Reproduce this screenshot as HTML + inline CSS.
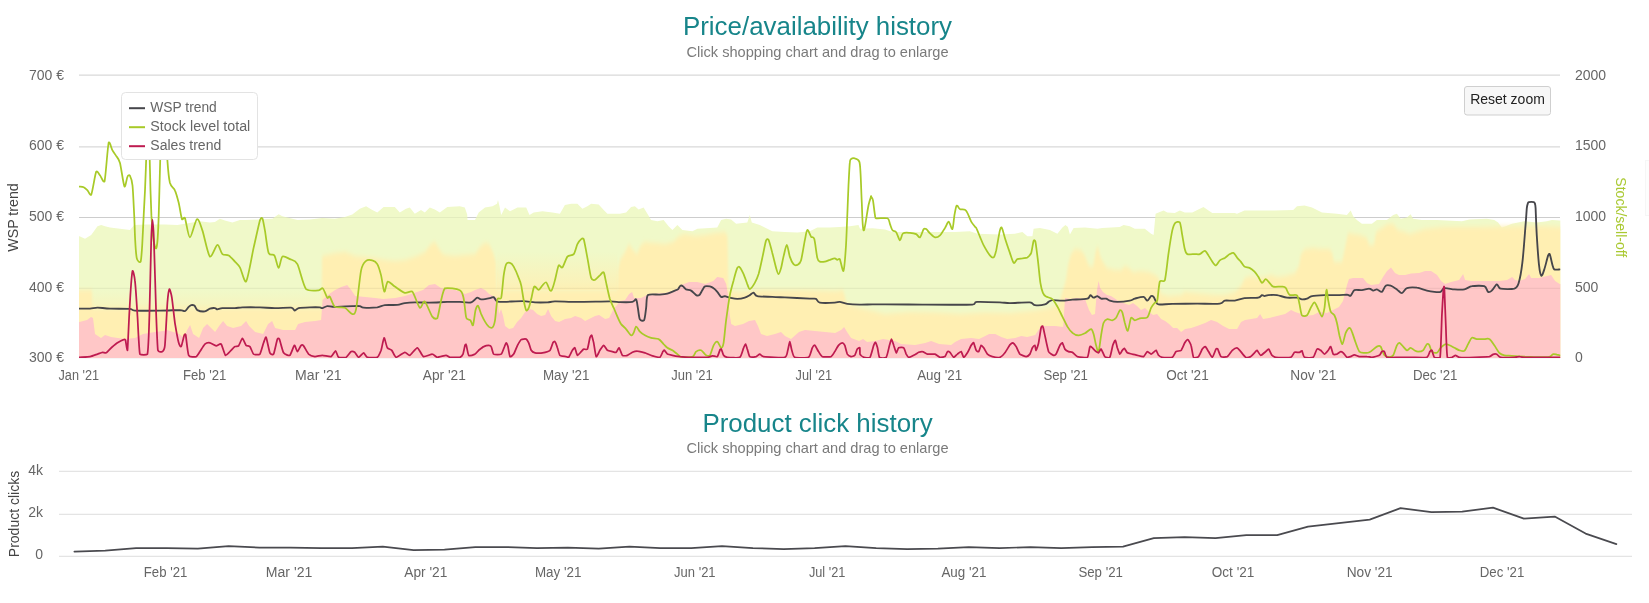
<!DOCTYPE html>
<html><head><meta charset="utf-8"><title>Price/availability history</title>
<style>
html,body{margin:0;padding:0;background:#fff;}
body{width:1649px;height:603px;position:relative;overflow:hidden;-webkit-font-smoothing:antialiased;font-family:"Liberation Sans",sans-serif;}
</style></head><body>
<svg width="1649" height="603" viewBox="0 0 1649 603" style="position:absolute;left:0;top:0;will-change:transform;font-family:'Liberation Sans',sans-serif">
<defs><linearGradient id="yg1" x1="0" y1="0" x2="0" y2="1"><stop offset="0" stop-color="#ffefb2" stop-opacity="0"/><stop offset="1" stop-color="#ffefb2" stop-opacity="0.85"/></linearGradient><linearGradient id="yg2" x1="0" y1="0" x2="0" y2="1"><stop offset="0" stop-color="#ffefb2" stop-opacity="0"/><stop offset="1" stop-color="#ffefb2" stop-opacity="0.5"/></linearGradient><filter id="bl" x="-2%" y="-10%" width="104%" height="120%"><feGaussianBlur stdDeviation="1.3 2.4"/></filter><filter id="bl2" x="-2%" y="-10%" width="104%" height="120%"><feGaussianBlur stdDeviation="0.5"/></filter><clipPath id="cp"><rect x="79" y="60" width="1481.3" height="298.1"/></clipPath></defs>
<path d="M79 75.1 H1560" stroke="#d9d9d9" stroke-width="1.15" fill="none"/>
<path d="M79 146.9 H1560" stroke="#d9d9d9" stroke-width="1.15" fill="none"/>
<path d="M79 217.45 H1560" stroke="#d9d9d9" stroke-width="1.15" fill="none"/>
<path d="M79 288.4 H1560" stroke="#d9d9d9" stroke-width="1.15" fill="none"/>
<path d="M79 357.6 H1560" stroke="#d9d9d9" stroke-width="1.15" fill="none"/>
<g clip-path="url(#cp)">
<path d="M71.5 236.2 L79.5 236.2 L85.0 238.7 L91.2 234.9 L97.5 226.2 L101.2 224.9 L105.0 226.2 L110.0 227.4 L120.0 228.7 L130.0 229.9 L134.2 224.9 L144.9 224.4 L164.9 224.4 L177.4 224.9 L199.9 221.2 L209.9 222.4 L214.9 221.9 L219.9 218.7 L224.9 220.4 L232.4 222.4 L239.9 219.9 L244.9 219.9 L259.9 219.4 L272.4 218.7 L278.6 214.2 L282.4 216.2 L292.4 218.7 L297.4 219.9 L309.9 219.4 L322.3 217.9 L334.8 218.7 L344.8 216.9 L352.3 214.4 L359.8 208.7 L366.1 206.2 L372.3 209.9 L377.3 212.4 L383.6 206.9 L394.8 206.9 L399.8 212.4 L406.0 208.7 L409.8 207.4 L414.8 213.7 L421.0 209.9 L424.8 212.4 L429.8 207.4 L434.8 209.4 L439.8 212.4 L447.3 206.9 L459.8 206.2 L464.8 207.4 L467.2 214.4 L467.5 219.9 L475.0 219.9 L478.7 212.4 L485.0 207.4 L492.5 206.2 L497.0 203.7 L498.0 199.9 L499.5 206.2 L501.2 214.9 L505.0 207.4 L510.0 211.2 L517.5 207.4 L526.2 207.4 L529.5 214.9 L533.7 212.4 L542.5 211.2 L552.4 212.4 L559.9 213.7 L564.9 204.9 L571.2 203.7 L577.4 203.7 L582.4 208.7 L587.4 206.2 L591.2 203.7 L598.7 204.4 L603.7 209.9 L607.4 213.7 L619.9 213.7 L626.1 212.4 L631.1 206.9 L634.9 206.2 L638.6 209.4 L643.6 207.4 L647.4 213.7 L651.1 219.9 L657.4 221.2 L663.6 219.9 L668.6 226.2 L672.4 229.9 L677.4 224.9 L682.4 229.9 L692.4 231.2 L697.4 228.7 L709.9 227.9 L717.3 227.4 L721.1 219.9 L726.1 218.7 L731.1 219.4 L736.1 223.7 L747.3 222.4 L749.8 214.9 L751.8 222.4 L759.8 224.9 L764.8 227.4 L772.3 231.2 L784.8 231.9 L797.3 232.4 L809.8 231.2 L817.3 227.4 L829.8 227.4 L839.8 226.9 L849.8 226.2 L858.5 224.9 L860.0 228.7 L872.5 228.2 L885.0 229.4 L892.5 231.9 L910.0 231.9 L935.0 231.9 L954.9 231.9 L969.9 231.2 L977.4 233.7 L999.9 234.4 L1014.9 233.7 L1022.4 231.9 L1027.4 236.2 L1032.4 236.2 L1033.6 228.7 L1039.9 227.9 L1049.9 229.9 L1057.4 233.7 L1062.4 227.4 L1065.4 224.9 L1067.9 226.9 L1069.9 234.4 L1073.6 227.9 L1084.9 227.4 L1097.4 228.7 L1102.3 227.9 L1119.8 226.9 L1123.6 224.9 L1129.8 226.2 L1134.8 228.7 L1144.8 228.7 L1151.1 233.7 L1153.6 234.9 L1155.6 213.7 L1159.8 211.9 L1163.6 210.4 L1167.3 212.4 L1174.8 212.9 L1179.8 210.4 L1184.8 212.4 L1192.3 212.4 L1197.3 209.9 L1203.5 206.9 L1208.5 210.4 L1212.3 212.9 L1234.8 212.9 L1237.0 213.7 L1244.5 210.4 L1262.0 210.4 L1274.5 210.4 L1293.2 209.9 L1297.0 206.2 L1304.5 205.4 L1312.0 207.4 L1322.0 212.4 L1336.9 213.7 L1346.9 214.9 L1350.7 210.4 L1353.2 216.2 L1356.9 219.9 L1361.9 223.7 L1371.9 223.7 L1376.9 219.9 L1386.9 219.9 L1393.2 214.9 L1396.9 213.7 L1400.7 218.7 L1406.9 217.4 L1410.6 214.2 L1413.1 218.7 L1421.9 219.9 L1436.9 219.9 L1461.9 221.2 L1469.4 219.4 L1486.8 218.7 L1494.3 219.9 L1498.1 222.4 L1501.8 227.4 L1505.6 226.2 L1511.8 223.7 L1524.3 221.2 L1536.8 222.4 L1546.8 221.2 L1551.8 219.9 L1560.0 220.4 L1568.0 220.4 L1568.0 366.3 L71.5 366.3 Z" fill="#f0f9c9" filter="url(#bl2)"/>
<path d="M71.5 290.0 L79.5 290.0 L92.0 290.0 L93.0 308.0 L150.0 308.0 L321.5 308.0 L322.1 256.0 L335.2 253.0 L345.2 252.0 L355.2 256.0 L365.2 257.0 L375.2 258.0 L385.2 260.0 L395.2 261.0 L405.0 260.0 L411.0 258.0 L417.0 256.0 L425.0 252.0 L431.0 244.0 L435.0 242.0 L441.0 252.0 L445.0 255.0 L455.0 256.0 L465.0 255.0 L475.0 254.0 L481.0 246.0 L485.0 243.0 L489.0 244.0 L493.0 252.0 L496.0 262.0 L497.0 289.5 L617.0 289.5 L618.0 270.0 L620.0 260.0 L625.0 252.0 L629.0 244.0 L633.0 250.0 L637.0 254.0 L641.0 245.0 L645.0 242.0 L655.0 243.0 L665.0 244.0 L673.0 242.0 L679.0 236.0 L685.0 234.0 L695.0 236.0 L705.0 235.0 L715.0 233.0 L725.0 232.0 L727.5 236.0 L728.5 290.0 L740.0 292.0 L760.0 290.0 L800.0 290.0 L835.0 291.0 L843.0 290.0 L847.0 304.0 L860.0 308.0 L885.0 314.0 L910.0 312.0 L935.0 312.5 L960.0 314.0 L985.0 312.5 L1010.0 313.0 L1035.0 310.5 L1050.0 308.0 L1059.0 304.0 L1063.0 290.0 L1066.0 280.0 L1068.0 265.0 L1071.0 254.0 L1075.0 249.0 L1081.0 250.0 L1085.0 256.0 L1089.0 266.0 L1093.0 267.0 L1096.0 250.0 L1098.0 246.0 L1100.0 256.0 L1103.0 262.0 L1107.0 268.0 L1115.0 270.0 L1121.0 270.0 L1125.0 266.0 L1129.0 268.0 L1133.0 272.0 L1141.0 271.0 L1149.0 272.0 L1155.0 275.0 L1159.0 278.0 L1160.0 290.0 L1161.0 294.0 L1169.0 296.0 L1181.0 295.0 L1185.0 292.0 L1195.0 293.0 L1205.0 294.0 L1215.0 295.0 L1225.0 295.0 L1235.0 292.0 L1241.0 286.0 L1245.0 278.0 L1251.0 276.0 L1257.0 278.0 L1265.0 277.0 L1271.0 275.0 L1277.0 277.0 L1285.0 276.0 L1295.0 273.0 L1299.0 266.0 L1301.0 254.0 L1305.0 249.0 L1313.0 248.0 L1321.0 249.0 L1329.0 249.0 L1332.0 252.0 L1334.0 262.0 L1342.0 262.0 L1345.0 248.0 L1348.0 233.0 L1360.0 235.0 L1367.0 238.0 L1369.0 245.0 L1374.0 245.0 L1376.0 232.0 L1388.0 224.0 L1393.0 224.0 L1398.0 230.0 L1405.0 232.0 L1410.0 234.0 L1425.0 229.0 L1443.0 227.0 L1480.0 227.0 L1520.0 226.0 L1545.0 226.0 L1560.0 227.0 L1568.0 227.0 L1568.0 366.3 L71.5 366.3 Z" fill="#ffefb2" filter="url(#bl)"/>
<rect x="497" y="252" width="120.5" height="38" fill="url(#yg1)"/>
<rect x="93" y="290" width="228.5" height="18.5" fill="url(#yg2)"/>
<path d="M71.5 322.1 L79.5 322.1 L87.0 320.1 L91.0 317.1 L93.0 318.1 L95.0 334.1 L101.0 338.1 L105.0 335.1 L111.0 337.1 L125.0 339.1 L135.0 338.1 L143.0 334.1 L155.0 332.1 L163.1 331.1 L167.1 330.1 L179.1 334.1 L184.1 338.1 L187.1 330.1 L190.1 325.1 L193.1 334.1 L199.1 338.1 L203.1 328.1 L207.1 324.1 L211.1 328.1 L215.1 332.1 L219.1 326.1 L223.1 321.1 L227.1 326.1 L233.1 328.1 L241.1 326.1 L246.1 321.1 L249.1 326.1 L255.1 332.1 L263.1 334.1 L268.1 324.1 L272.1 321.1 L275.1 328.1 L283.1 330.1 L295.1 330.1 L298.1 324.1 L305.1 322.1 L315.1 321.1 L321.1 320.1 L322.6 300.0 L329.2 294.0 L335.2 290.0 L341.2 287.0 L347.2 285.0 L351.2 290.0 L355.2 296.0 L365.2 297.0 L375.2 298.0 L383.2 299.0 L395.2 298.0 L405.0 296.0 L411.0 294.0 L417.0 292.0 L423.0 290.0 L429.0 285.0 L435.0 284.0 L441.0 288.0 L445.0 289.0 L455.0 290.0 L461.0 292.0 L465.0 294.0 L471.0 292.0 L475.0 290.0 L481.0 288.0 L485.0 290.0 L489.1 294.0 L493.1 296.0 L497.1 298.0 L499.1 314.1 L501.1 309.0 L503.1 316.1 L505.1 326.1 L509.1 329.1 L513.1 328.1 L517.1 322.1 L521.1 318.1 L525.1 312.0 L529.1 309.0 L533.1 310.0 L537.1 314.1 L541.1 316.1 L545.1 315.1 L548.1 309.0 L551.1 316.1 L555.1 321.1 L559.1 322.1 L565.1 319.1 L571.1 318.1 L575.1 316.1 L581.1 318.1 L585.1 321.1 L589.1 319.1 L595.1 316.1 L599.1 315.1 L605.1 319.1 L609.1 318.1 L613.1 310.0 L617.1 305.0 L620.1 301.0 L625.1 300.0 L629.1 294.0 L632.1 292.0 L634.1 298.0 L641.1 298.0 L645.1 296.0 L648.1 294.0 L665.2 293.0 L675.2 290.0 L681.2 285.0 L689.2 282.0 L697.2 282.0 L705.2 284.0 L713.2 281.0 L717.2 277.0 L723.2 278.0 L726.2 284.0 L728.2 296.0 L729.6 314.1 L731.2 324.1 L735.0 326.1 L743.0 324.1 L749.0 321.1 L755.0 320.1 L758.0 326.1 L761.0 334.1 L767.0 336.1 L775.0 334.1 L781.0 332.1 L785.0 336.1 L791.0 339.1 L799.0 332.1 L805.0 330.1 L815.0 331.1 L825.1 332.1 L835.1 333.1 L841.1 330.1 L844.1 327.1 L847.1 332.1 L851.1 338.1 L859.1 341.1 L863.1 339.1 L867.1 342.1 L875.1 341.1 L883.1 339.1 L895.1 341.1 L901.1 344.1 L915.1 345.1 L925.1 343.1 L931.1 341.1 L939.1 344.1 L951.1 345.1 L955.1 342.1 L961.1 339.1 L971.1 338.1 L979.1 339.1 L985.2 336.1 L989.2 334.1 L995.2 334.1 L1001.2 337.1 L1007.2 339.1 L1015.2 338.1 L1021.2 336.1 L1027.2 337.1 L1035.2 335.1 L1041.2 326.1 L1047.2 326.1 L1055.2 326.1 L1063.2 327.1 L1065.0 298.0 L1071.0 299.0 L1077.0 298.0 L1085.0 299.0 L1089.0 310.0 L1092.0 315.1 L1095.0 314.1 L1097.0 290.0 L1098.6 281.0 L1100.2 288.0 L1103.0 292.0 L1107.0 295.0 L1111.0 296.0 L1117.0 300.0 L1123.0 303.0 L1129.0 305.0 L1133.0 303.0 L1137.0 306.0 L1141.0 310.0 L1145.0 308.0 L1149.1 312.0 L1153.1 315.1 L1157.1 314.1 L1161.1 319.1 L1165.1 321.1 L1169.1 324.1 L1173.1 328.1 L1177.1 328.1 L1181.1 332.1 L1185.1 329.1 L1191.1 328.1 L1197.1 326.1 L1205.1 323.1 L1211.1 320.1 L1217.1 322.1 L1223.1 326.1 L1229.1 329.1 L1237.1 329.1 L1241.1 322.1 L1245.1 320.1 L1251.1 319.1 L1257.1 318.1 L1260.1 314.1 L1263.1 319.1 L1269.1 318.1 L1277.1 316.1 L1285.1 314.1 L1291.1 310.0 L1295.1 312.0 L1301.1 314.1 L1305.1 316.1 L1313.2 315.1 L1317.2 313.1 L1319.0 312.1 L1327.0 313.1 L1335.0 309.1 L1339.0 307.1 L1343.0 301.1 L1347.0 285.0 L1349.0 279.0 L1353.0 278.0 L1363.0 278.0 L1367.0 283.0 L1371.0 285.0 L1379.0 284.0 L1383.0 277.0 L1387.0 271.0 L1391.0 267.4 L1395.0 273.0 L1399.0 275.0 L1405.1 275.0 L1411.1 273.4 L1419.1 273.0 L1425.1 271.0 L1431.1 271.0 L1437.1 275.0 L1441.1 281.0 L1445.1 284.0 L1451.1 282.0 L1459.1 280.0 L1463.1 274.0 L1465.1 280.0 L1471.1 281.0 L1479.1 281.0 L1489.1 281.0 L1499.1 281.0 L1507.1 280.0 L1512.1 277.0 L1515.1 280.0 L1519.1 281.0 L1525.1 279.0 L1529.1 274.0 L1531.1 278.0 L1539.1 278.0 L1547.1 276.0 L1551.1 275.0 L1555.1 281.0 L1559.7 284.0 L1560.0 284.0 L1568.0 284.0 L1568.0 366.3 L71.5 366.3 Z" fill="#ffc7c7" filter="url(#bl2)"/>
<path d="M79 217.45 H1560" stroke="#000" stroke-opacity="0.05" stroke-width="1.1" fill="none"/>
<path d="M79 288.4 H1560" stroke="#000" stroke-opacity="0.05" stroke-width="1.1" fill="none"/>
<path d="M79.5 308.6 C81.0 308.6 87.5 308.8 90.0 308.6 C92.5 308.5 94.7 307.6 97.5 307.6 C100.3 307.6 105.4 308.5 110.0 308.6 C114.5 308.8 126.5 308.6 130.0 308.9 C133.5 309.2 130.8 310.4 134.9 310.6 C139.1 310.9 153.6 310.7 159.9 310.6 C166.2 310.6 176.4 310.1 179.9 310.1 C183.4 310.2 183.7 311.6 184.9 311.1 C186.1 310.7 187.8 307.7 188.7 306.9 C189.5 306.1 190.4 305.3 191.2 305.1 C192.0 305.0 193.5 305.0 194.4 305.6 C195.3 306.3 196.0 309.3 197.4 310.1 C198.9 310.9 203.2 311.6 204.9 311.4 C206.7 311.2 208.5 309.1 209.9 308.6 C211.3 308.2 213.9 308.0 214.9 308.1 C216.0 308.2 216.4 309.4 217.4 309.4 C218.4 309.4 220.0 308.3 222.4 308.1 C224.8 308.0 232.1 308.2 234.9 308.1 C237.7 308.0 238.9 307.5 242.4 307.4 C245.9 307.3 255.3 307.3 259.9 307.4 C264.4 307.5 270.5 308.1 274.9 308.1 C279.2 308.2 288.3 307.3 291.1 307.6 C293.9 308.0 293.8 310.6 294.9 310.6 C295.9 310.7 296.5 308.6 298.6 308.1 C300.7 307.7 306.9 307.5 309.9 307.4 C312.8 307.3 318.1 307.3 319.8 307.4 C321.6 307.5 321.3 308.3 322.3 308.1 C323.4 308.0 325.6 306.3 327.3 306.1 C329.1 306.0 331.3 306.9 334.8 306.9 C338.3 306.9 348.8 306.3 352.3 306.1 C355.8 306.0 358.2 305.9 359.8 306.1 C361.4 306.4 361.1 307.5 363.6 307.6 C366.0 307.8 374.3 307.7 377.3 307.4 C380.3 307.0 382.0 305.5 384.8 305.1 C387.6 304.8 394.5 305.2 397.3 304.9 C400.1 304.6 402.3 303.5 404.8 303.1 C407.2 302.8 411.3 302.5 414.8 302.4 C418.3 302.3 425.2 302.7 429.8 302.6 C434.3 302.6 443.1 302.0 447.3 301.9 C451.5 301.8 457.3 301.8 459.8 301.9 C462.2 302.0 463.4 302.3 465.0 302.4 C466.6 302.5 469.8 302.8 471.2 302.4 C472.6 302.0 474.1 300.1 475.0 299.4 C475.9 298.7 476.6 297.6 477.5 297.6 C478.4 297.6 479.5 299.3 481.2 299.4 C483.0 299.5 488.2 298.5 490.0 298.1 C491.7 297.8 492.9 296.8 493.7 297.1 C494.6 297.5 495.4 300.0 496.2 300.6 C497.1 301.3 496.3 301.8 500.0 301.9 C503.7 302.0 517.6 301.1 522.5 301.1 C527.4 301.2 531.5 302.2 535.0 302.4 C538.4 302.6 544.7 302.5 547.5 302.4 C550.2 302.3 550.7 301.5 554.9 301.4 C559.1 301.3 569.7 301.9 577.4 301.9 C585.1 301.9 604.0 301.4 609.9 301.4 C615.9 301.4 616.8 302.1 619.9 302.1 C623.0 302.2 630.1 302.3 632.4 301.9 C634.7 301.5 635.4 298.5 636.1 299.4 C636.9 300.3 637.4 305.3 637.9 308.1 C638.4 310.9 639.0 317.7 639.9 319.4 C640.8 321.1 643.3 321.1 644.1 320.1 C645.0 318.6 645.6 311.6 646.1 308.1 C646.7 304.6 646.1 297.0 647.9 295.1 C649.8 293.6 657.2 294.9 659.9 294.6 C662.6 294.4 665.3 294.2 667.4 293.6 C669.5 293.1 673.4 291.2 674.9 290.6 C676.3 290.1 677.1 290.1 677.9 289.4 C678.6 288.7 679.7 286.1 680.4 285.7 C681.1 285.2 682.1 285.6 682.9 286.2 C683.7 286.7 685.0 288.8 686.1 289.4 C687.3 290.0 689.7 289.8 691.1 290.6 C692.5 291.5 695.0 294.5 696.1 295.1 C697.3 295.8 698.5 295.8 699.4 295.1 C700.2 294.4 701.6 291.4 702.4 290.1 C703.1 288.9 703.8 286.9 704.9 286.4 C705.9 285.9 708.6 286.2 709.9 286.4 C711.1 286.7 712.6 287.4 713.6 288.2 C714.6 288.9 716.3 290.7 717.3 291.9 C718.4 293.1 720.0 296.3 721.1 296.9 C722.1 297.5 723.6 296.0 724.8 296.1 C726.1 296.3 728.1 297.3 729.8 297.6 C731.6 298.0 735.2 298.9 737.3 298.9 C739.4 298.9 743.1 298.2 744.8 297.6 C746.6 297.1 748.6 295.8 749.8 295.1 C751.0 294.4 752.5 292.5 753.6 292.6 C754.6 292.8 754.7 295.6 757.3 296.1 C759.9 296.7 768.5 296.7 772.3 296.9 C776.2 297.1 779.6 297.2 784.8 297.4 C790.0 297.6 805.4 298.4 809.8 298.6 C814.2 298.9 814.6 298.3 816.0 298.9 C817.4 299.5 817.2 302.1 819.8 302.6 C822.4 303.2 832.0 302.8 834.8 302.6 C837.6 302.5 838.0 301.7 839.8 301.9 C841.5 302.1 844.5 303.5 847.3 303.9 C850.1 304.3 856.2 304.6 859.8 304.6 C863.3 304.7 869.0 304.4 872.5 304.4 C876.0 304.4 878.0 304.4 885.0 304.4 C892.0 304.4 910.2 304.6 922.5 304.6 C934.7 304.7 964.8 305.0 972.4 304.6 C976.9 304.3 973.1 302.2 976.9 301.9 C980.8 301.6 995.3 302.2 999.9 302.4 C1004.5 302.6 1005.7 303.1 1009.9 303.1 C1014.1 303.1 1026.4 302.1 1029.9 302.4 C1033.4 302.7 1032.8 304.9 1034.9 305.1 C1037.0 305.4 1043.0 304.9 1044.9 304.4 C1046.8 303.9 1047.6 302.5 1048.6 301.9 C1049.7 301.3 1050.5 300.3 1052.4 300.1 C1054.3 300.0 1059.6 300.7 1062.4 300.6 C1065.2 300.6 1068.9 299.9 1072.4 299.6 C1075.9 299.4 1084.8 299.3 1087.4 298.6 C1089.9 298.0 1089.5 295.3 1090.4 295.1 C1091.2 295.0 1092.6 297.5 1093.6 297.6 C1094.6 297.8 1096.3 296.0 1097.4 296.1 C1098.4 296.3 1099.9 298.3 1101.1 298.6 C1102.3 299.0 1104.9 298.4 1106.1 298.6 C1107.3 298.9 1108.3 300.2 1109.8 300.6 C1111.4 301.1 1114.5 301.9 1117.3 301.9 C1120.1 301.9 1127.4 301.1 1129.8 300.6 C1132.3 300.2 1132.9 299.2 1134.8 298.6 C1136.8 298.1 1141.8 296.6 1143.6 296.9 C1145.3 297.2 1146.3 300.8 1147.3 300.6 C1148.4 300.5 1150.2 296.7 1151.1 296.1 C1151.9 295.6 1152.9 296.1 1153.6 296.9 C1154.3 297.7 1155.4 300.8 1156.1 301.9 C1156.8 302.9 1156.3 304.1 1158.6 304.4 C1160.8 304.7 1166.9 304.0 1172.3 303.9 C1177.7 303.8 1190.7 303.7 1197.3 303.6 C1203.9 303.6 1215.9 304.1 1219.8 303.6 C1223.6 303.2 1222.7 301.1 1224.8 300.6 C1226.9 300.2 1232.0 301.0 1234.8 300.6 C1237.5 300.3 1241.2 298.6 1244.5 298.1 C1247.8 297.7 1255.8 298.1 1258.2 297.6 C1260.7 297.2 1261.1 295.4 1262.0 295.1 C1262.9 294.9 1263.6 296.1 1264.5 296.1 C1265.4 296.1 1266.5 295.3 1268.2 295.1 C1270.0 295.0 1274.4 294.8 1277.0 295.1 C1279.6 295.5 1284.2 297.3 1287.0 297.6 C1289.8 298.0 1294.9 297.4 1297.0 297.6 C1299.1 297.9 1300.6 299.3 1302.0 299.4 C1303.4 299.5 1305.6 299.1 1307.0 298.6 C1308.4 298.2 1309.5 296.6 1312.0 296.1 C1314.4 295.7 1321.0 295.3 1324.5 295.1 C1327.9 295.0 1333.8 295.2 1336.9 295.1 C1340.1 295.1 1345.0 294.6 1346.9 294.6 C1348.9 294.7 1349.6 296.3 1350.7 295.6 C1351.7 295.0 1352.9 290.9 1354.4 290.1 C1356.0 289.4 1359.8 290.4 1361.9 290.1 C1364.0 289.9 1367.8 288.6 1369.4 288.7 C1371.0 288.7 1372.1 290.5 1373.2 290.6 C1374.2 290.8 1375.7 289.2 1376.9 289.4 C1378.1 289.6 1380.7 292.4 1381.9 291.9 C1383.1 291.4 1384.4 286.5 1385.7 285.7 C1386.9 284.8 1389.1 285.1 1390.7 285.7 C1392.2 286.2 1395.3 288.4 1396.9 289.4 C1398.5 290.5 1400.5 293.3 1401.9 293.1 C1403.3 293.0 1404.8 288.9 1406.9 288.2 C1409.0 287.4 1414.1 287.3 1416.9 287.7 C1419.7 288.0 1424.4 290.1 1426.9 290.6 C1429.3 291.2 1432.5 291.7 1434.4 291.9 C1436.3 292.1 1439.2 292.4 1440.6 291.9 C1442.0 291.4 1442.4 288.5 1444.4 288.2 C1446.3 287.8 1451.6 289.2 1454.4 289.4 C1457.2 289.6 1461.9 289.9 1464.4 289.4 C1466.8 289.0 1469.1 286.6 1471.9 286.2 C1474.7 285.7 1482.1 285.4 1484.3 286.2 C1486.6 287.0 1487.0 291.3 1488.1 291.9 C1489.1 292.5 1490.6 291.7 1491.8 290.6 C1493.1 289.6 1495.6 284.7 1496.8 284.4 C1498.1 284.1 1498.1 288.1 1500.6 288.7 C1503.0 289.3 1511.8 289.4 1514.3 288.7 C1516.8 287.9 1517.5 286.7 1518.6 283.2 C1519.7 279.6 1521.4 270.9 1522.3 263.2 C1523.3 255.5 1524.7 235.9 1525.3 228.2 C1526.0 220.5 1526.5 211.6 1526.8 208.1 C1527.2 204.7 1527.5 204.5 1527.8 203.6 C1528.1 202.8 1528.0 202.3 1528.8 202.1 C1529.7 201.9 1533.0 201.9 1533.8 202.1 C1534.7 202.3 1534.6 202.8 1534.8 203.6 C1535.1 204.5 1535.3 203.6 1535.6 208.1 C1535.8 212.6 1536.3 227.6 1536.8 235.7 C1537.3 243.7 1538.4 260.1 1539.1 265.7 C1539.7 271.3 1540.6 275.1 1541.3 275.7 C1542.1 276.2 1543.4 272.2 1544.3 269.4 C1545.3 266.6 1547.3 257.8 1548.1 255.7 C1548.8 253.6 1549.2 253.4 1549.8 254.4 C1550.4 255.7 1551.7 262.3 1552.3 264.4 C1552.9 266.5 1553.2 268.7 1554.3 269.4 C1555.4 270.1 1559.2 269.4 1560.0 269.4" stroke="#46464b" stroke-width="1.85" fill="none" stroke-linejoin="round" stroke-linecap="round"/>
<path d="M79.5 186.6 C80.1 186.7 82.6 186.8 83.7 187.3 C84.9 187.9 86.4 189.3 87.5 190.3 C88.5 191.4 90.0 195.8 91.2 194.8 C92.5 192.2 95.0 174.3 96.2 171.6 C97.5 170.6 98.8 174.0 100.0 175.3 C101.1 176.7 103.2 182.6 104.5 181.6 C105.7 177.0 107.6 146.7 108.7 142.4 C109.8 141.4 111.4 148.5 112.5 150.4 C113.5 152.2 115.2 154.1 116.2 155.9 C117.3 157.6 118.8 158.6 120.0 162.9 C121.1 167.2 123.4 184.7 124.5 186.6 C125.5 187.6 126.7 178.1 127.5 176.6 C128.2 175.1 129.3 174.8 130.0 175.8 C130.7 177.1 131.9 179.8 132.5 185.3 C133.1 190.9 133.8 207.6 134.2 215.3 C134.6 223.0 134.8 234.4 135.2 240.4 C135.5 246.3 136.2 254.9 136.7 257.9 C137.2 260.8 138.1 261.1 138.7 261.6 C139.3 262.1 140.2 262.6 140.7 261.6 C141.2 259.3 141.8 251.9 142.2 245.4 C142.6 238.9 143.3 223.1 143.7 215.4 C144.1 207.7 144.6 199.5 145.0 190.4 C145.4 181.3 146.1 161.6 146.5 150.4 C146.9 139.2 147.6 110.4 148.0 110.4 C148.4 110.4 149.2 139.2 149.5 150.4 C149.8 161.6 150.2 181.3 150.5 190.4 C150.8 199.5 151.1 209.1 151.4 215.4 C151.8 221.7 152.4 231.0 152.9 235.4 C153.4 239.8 154.4 244.9 154.9 246.6 C155.4 248.4 156.1 248.9 156.4 247.9 C156.8 246.7 157.4 242.4 157.7 237.9 C158.0 233.3 158.5 222.0 158.7 215.4 C158.9 208.8 159.2 198.1 159.4 190.4 C159.6 182.7 159.9 171.6 160.2 160.4 C160.5 149.2 160.7 116.0 161.5 110.4 C162.3 109.4 165.2 113.4 166.0 120.4 C166.8 127.4 166.9 151.6 167.4 160.4 C168.0 169.1 168.9 178.6 169.9 182.8 C171.0 187.0 173.7 187.5 174.9 190.3 C176.2 193.1 177.7 198.8 178.7 202.8 C179.7 206.9 181.1 217.0 181.9 219.1 C182.8 220.1 183.8 216.9 184.9 217.9 C186.0 220.5 188.2 237.2 189.9 237.4 C191.6 237.6 195.2 220.1 196.9 219.2 C198.7 218.2 200.6 225.1 202.4 230.4 C204.2 235.6 207.8 254.6 209.9 256.6 C212.0 257.6 215.7 245.2 217.4 244.9 C219.1 244.5 220.8 252.7 222.4 254.1 C224.0 255.6 226.9 254.3 228.7 255.4 C230.4 256.4 233.3 259.9 234.9 261.6 C236.5 263.3 238.3 264.6 239.9 267.4 C241.5 270.2 244.2 282.6 246.1 281.6 C248.1 278.9 251.7 256.4 253.6 247.9 C255.6 239.3 258.7 224.5 259.9 220.4 C261.1 217.4 261.7 217.4 262.4 218.4 C263.1 219.8 264.0 225.6 264.9 230.4 C265.8 235.2 267.3 249.4 268.6 252.9 C269.9 256.4 273.0 253.3 274.4 255.4 C275.8 257.5 277.5 267.7 278.6 267.9 C279.7 268.0 280.8 257.8 282.4 256.6 C283.9 255.6 287.8 258.1 289.9 259.1 C292.0 260.2 295.1 259.9 297.4 264.1 C299.6 268.3 303.1 285.4 306.1 289.1 C309.1 291.3 316.2 290.5 318.6 290.3 C320.9 290.2 321.6 287.4 322.8 288.4 C324.1 289.4 326.4 296.7 327.3 297.8 C328.3 298.8 328.8 295.6 329.8 296.6 C330.9 297.8 332.7 305.0 334.8 306.6 C336.9 308.2 342.4 306.8 344.8 307.8 C347.3 308.9 350.7 313.9 352.3 314.1 C353.9 314.3 354.8 315.1 356.1 309.1 C357.3 303.0 359.7 277.1 361.1 270.4 C362.5 263.6 364.5 262.3 366.1 260.9 C367.6 259.5 370.7 259.9 372.3 260.4 C373.9 260.8 376.1 262.0 377.3 264.1 C378.5 266.2 380.1 271.5 381.1 275.4 C382.0 279.2 383.4 290.7 384.3 291.6 C385.2 292.5 386.3 282.3 387.8 281.6 C389.3 280.9 392.4 285.0 394.8 286.6 C397.2 288.2 402.3 292.2 404.8 292.8 C407.2 293.5 410.2 290.6 412.3 291.6 C414.4 293.7 418.0 306.4 419.8 307.8 C421.5 308.8 423.0 300.6 424.8 301.6 C426.5 302.8 430.5 314.2 432.3 316.6 C434.0 318.9 435.5 319.3 437.3 318.3 C439.0 314.4 441.6 292.3 444.8 288.4 C447.9 287.4 457.1 289.0 459.8 290.3 C462.4 291.7 462.6 294.2 463.5 297.8 C464.4 301.5 465.4 313.6 466.0 316.6 C466.6 319.6 466.9 318.6 467.5 319.1 C468.1 319.6 469.7 319.5 470.5 320.3 C471.3 321.2 472.3 326.3 473.0 325.3 C473.7 323.9 474.8 313.1 475.5 310.3 C476.2 307.6 477.2 305.3 478.0 305.8 C478.8 306.4 480.3 311.9 481.2 314.1 C482.2 316.3 483.9 319.8 485.0 321.6 C486.0 323.3 487.7 325.8 488.7 326.6 C489.8 327.4 491.6 328.2 492.5 327.3 C493.4 326.5 494.3 324.3 495.0 320.3 C495.7 316.4 496.6 302.2 497.5 299.1 C498.4 296.8 500.3 300.1 501.2 297.8 C502.1 294.5 503.0 280.1 503.7 275.4 C504.4 270.6 505.3 265.9 506.2 264.1 C507.1 262.4 508.9 262.5 510.0 262.9 C511.0 263.2 512.5 264.5 513.7 266.6 C514.9 268.7 517.7 275.2 518.7 277.9 C519.8 280.5 520.5 282.2 521.2 285.4 C521.9 288.5 523.0 296.9 523.7 300.3 C524.4 303.8 525.5 309.3 526.2 310.3 C526.9 311.3 528.0 309.4 528.7 307.8 C529.4 306.3 530.4 302.1 531.2 299.1 C532.0 296.1 533.2 287.9 534.2 286.6 C535.2 285.6 537.5 290.0 538.7 289.8 C539.9 289.7 541.4 286.4 542.5 285.4 C543.5 284.3 545.2 281.7 546.2 282.4 C547.2 283.1 549.1 289.3 550.0 290.3 C550.8 291.3 551.2 291.2 551.9 289.8 C552.6 288.5 554.0 283.8 554.9 280.4 C555.9 276.9 557.6 267.2 558.7 265.4 C559.7 264.4 561.2 268.4 562.4 267.4 C563.7 266.1 565.9 258.5 567.4 256.6 C569.0 254.8 572.3 255.9 573.7 254.1 C575.1 252.4 576.4 246.2 577.4 244.1 C578.5 242.0 580.3 239.8 581.2 239.1 C582.1 238.4 582.8 238.1 583.7 239.1 C584.5 241.8 586.4 252.4 587.4 257.9 C588.5 263.3 590.1 274.8 591.2 277.9 C592.2 280.9 593.7 280.2 594.9 279.9 C596.1 279.5 598.7 276.4 599.9 275.4 C601.1 274.3 602.8 271.4 603.7 272.4 C604.5 273.4 605.3 279.1 606.2 282.9 C607.0 286.6 608.9 295.6 609.9 299.1 C611.0 302.6 612.6 305.4 613.7 307.8 C614.7 310.3 616.4 314.3 617.4 316.6 C618.4 318.9 619.9 322.3 621.1 324.1 C622.4 325.8 624.8 327.5 626.1 329.1 C627.5 330.7 630.1 334.8 631.1 335.3 C632.2 335.9 632.9 334.1 633.6 332.8 C634.3 331.6 635.3 326.8 636.1 326.6 C637.0 326.4 638.7 330.4 639.9 331.6 C641.1 332.8 643.3 334.5 644.9 335.3 C646.5 336.2 649.2 337.3 651.1 337.8 C653.1 338.4 656.9 338.2 658.6 339.1 C660.4 339.9 662.4 342.8 663.6 344.1 C664.9 345.3 666.1 346.9 667.4 347.8 C668.6 348.7 671.0 349.4 672.4 350.3 C673.8 351.2 676.1 353.2 677.4 354.1 C678.6 355.0 679.0 356.4 681.1 356.8 C683.2 357.2 690.3 357.5 692.4 356.8 C694.5 356.1 694.9 352.5 696.1 351.6 C697.3 350.7 699.7 349.8 701.1 350.3 C702.5 350.8 704.9 354.6 706.1 355.3 C707.3 356.0 708.8 356.3 709.9 355.3 C710.9 353.9 712.6 347.2 713.6 345.3 C714.6 343.4 716.3 341.2 717.3 341.6 C718.4 341.9 720.2 347.6 721.1 347.8 C722.0 348.0 722.9 346.7 723.6 342.8 C724.3 339.0 725.2 327.0 726.1 320.3 C727.0 313.7 728.8 300.9 729.8 295.3 C730.9 289.8 732.5 284.2 733.6 280.4 C734.6 276.5 736.5 269.7 737.3 267.9 C738.2 266.4 739.0 266.5 739.8 267.4 C740.7 268.2 742.5 271.8 743.6 274.1 C744.6 276.5 746.5 282.0 747.3 284.1 C748.2 286.2 748.8 289.3 749.8 289.1 C750.9 288.9 753.6 285.0 754.8 282.9 C756.0 280.8 757.5 277.6 758.6 274.1 C759.6 270.6 761.3 262.6 762.3 257.9 C763.4 253.1 765.2 242.9 766.1 240.4 C766.9 238.9 767.7 238.9 768.6 239.9 C769.4 241.6 771.3 249.0 772.3 252.9 C773.4 256.8 775.2 264.9 776.1 267.9 C776.9 270.8 777.9 274.1 778.6 274.1 C779.3 274.1 780.4 270.3 781.1 267.9 C781.8 265.4 782.7 259.8 783.5 256.6 C784.4 253.4 785.9 244.9 786.8 244.9 C787.7 244.9 788.9 253.9 789.8 256.6 C790.7 259.3 792.5 263.0 793.5 264.1 C794.6 265.3 796.3 265.4 797.3 264.9 C798.3 264.3 800.0 263.8 801.0 260.4 C802.1 256.9 803.9 244.6 804.8 240.4 C805.7 236.1 806.4 230.4 807.3 229.9 C808.2 229.4 810.1 235.3 811.0 236.6 C812.0 237.9 813.4 236.2 814.3 239.1 C815.2 242.1 816.5 254.7 817.3 257.9 C818.0 261.0 818.7 261.1 819.8 261.6 C820.8 262.1 823.4 261.9 824.8 261.6 C826.2 261.4 828.4 260.3 829.8 259.9 C831.2 259.4 833.7 258.4 834.8 258.4 C835.8 258.4 836.6 259.8 837.3 259.9 C838.0 260.0 838.9 258.1 839.8 259.1 C840.6 260.7 842.6 271.9 843.5 270.9 C844.4 268.9 845.5 253.2 846.0 245.4 C846.5 237.6 846.9 223.7 847.3 215.3 C847.6 206.9 848.2 192.7 848.5 185.3 C848.9 178.0 849.4 166.5 849.8 162.9 C850.1 159.2 850.3 159.7 851.0 159.1 C851.7 158.5 853.6 158.0 854.8 158.4 C855.9 158.7 858.5 159.6 859.3 161.6 C860.1 163.6 860.2 167.1 860.5 172.8 C860.9 178.6 861.4 195.5 861.8 202.8 C862.1 210.2 862.4 221.5 862.8 225.3 C863.1 229.2 863.5 231.0 864.0 230.3 C864.5 229.6 865.4 223.8 866.0 220.3 C866.6 216.8 867.8 208.7 868.5 205.3 C869.2 202.0 870.6 197.8 871.0 196.6 C871.2 195.6 871.0 196.1 871.2 196.6 C871.5 197.1 872.5 197.7 873.0 200.3 C873.5 203.0 874.5 212.8 875.0 215.3 C875.4 217.8 875.0 217.9 876.2 218.3 C878.0 218.7 885.6 217.5 887.5 218.3 C889.4 219.1 889.3 222.4 890.0 224.1 C890.7 225.8 891.6 229.2 892.5 230.3 C893.4 231.5 895.2 230.9 896.2 232.3 C897.3 233.7 899.0 240.2 900.0 240.4 C900.9 240.5 901.6 234.4 903.0 233.4 C904.4 232.3 908.1 232.8 910.0 232.9 C911.8 233.0 914.8 233.5 916.2 234.1 C917.6 234.8 918.9 238.1 920.0 237.4 C921.0 236.7 922.8 230.3 923.7 229.1 C924.6 228.1 925.3 228.5 926.2 229.1 C927.1 229.7 928.7 232.2 930.0 233.4 C931.2 234.5 933.6 237.1 935.0 237.4 C936.3 237.7 938.6 236.7 940.0 235.4 C941.4 234.1 943.7 229.8 945.0 227.9 C946.2 226.0 947.7 221.5 948.7 221.7 C949.7 221.8 951.6 230.0 952.4 229.1 C953.2 228.3 953.9 218.5 954.4 215.3 C955.0 212.2 955.8 207.9 956.2 206.6 C956.6 205.3 956.9 205.5 957.4 205.8 C958.0 206.2 958.9 208.5 959.9 209.1 C961.0 209.6 963.9 209.3 964.9 209.8 C966.0 210.4 966.6 211.2 967.4 212.8 C968.3 214.5 970.1 219.6 971.2 221.6 C972.2 223.5 974.2 225.7 974.9 226.6 C975.6 227.5 975.5 226.5 976.2 227.9 C976.9 229.3 978.9 234.2 979.9 236.6 C981.0 239.1 982.3 242.8 983.7 245.4 C985.1 248.0 988.5 253.7 989.9 255.4 C991.3 257.1 992.8 258.1 993.7 257.4 C994.5 256.7 995.3 254.2 996.2 250.4 C997.0 246.6 999.1 233.5 999.9 230.4 C1000.7 227.2 1001.2 226.9 1001.9 227.9 C1002.6 228.9 1003.8 234.4 1004.9 237.9 C1006.0 241.4 1008.7 249.4 1009.9 252.9 C1011.1 256.4 1012.6 262.0 1013.7 262.9 C1014.7 263.7 1016.2 259.8 1017.4 259.1 C1018.6 258.5 1021.0 258.6 1022.4 258.4 C1023.8 258.1 1026.2 258.1 1027.4 257.4 C1028.6 256.6 1030.3 255.2 1031.2 252.9 C1032.0 250.6 1033.0 242.5 1033.6 240.9 C1034.2 239.9 1034.8 239.9 1035.4 241.6 C1036.0 244.4 1037.2 254.6 1037.9 260.4 C1038.6 266.1 1039.7 278.3 1040.4 282.9 C1041.1 287.4 1042.1 290.9 1042.9 292.8 C1043.7 294.8 1044.8 295.7 1046.1 296.6 C1047.5 297.5 1050.8 297.7 1052.4 299.1 C1054.0 300.5 1056.0 304.1 1057.4 306.6 C1058.8 309.0 1061.0 313.8 1062.4 316.6 C1063.8 319.4 1066.0 324.3 1067.4 326.6 C1068.8 328.9 1070.8 331.6 1072.4 332.8 C1073.9 334.1 1076.9 335.3 1078.6 335.3 C1080.4 335.4 1083.1 334.2 1084.9 333.3 C1086.6 332.5 1089.9 329.0 1091.1 329.1 C1092.3 329.2 1092.9 331.8 1093.6 334.1 C1094.3 336.4 1095.4 342.9 1096.1 345.3 C1096.8 347.8 1097.9 352.6 1098.6 351.6 C1099.3 350.2 1100.4 339.4 1101.1 335.3 C1101.8 331.3 1102.7 325.1 1103.6 322.8 C1104.5 320.6 1106.1 319.4 1107.3 319.1 C1108.6 318.7 1111.1 320.5 1112.3 320.3 C1113.6 320.2 1115.0 319.2 1116.1 317.8 C1117.1 316.4 1119.0 311.1 1119.8 310.3 C1120.7 309.6 1121.6 310.6 1122.3 312.3 C1123.0 314.1 1124.1 320.2 1124.8 322.8 C1125.6 325.4 1127.0 331.5 1127.8 330.8 C1128.7 330.1 1130.1 319.3 1131.1 317.8 C1132.1 316.8 1133.6 320.3 1134.8 320.3 C1136.1 320.4 1138.1 318.8 1139.8 318.3 C1141.6 317.9 1145.8 318.8 1147.3 317.3 C1148.9 315.9 1150.0 309.9 1151.1 307.8 C1152.1 305.8 1153.9 303.9 1154.8 302.8 C1155.7 301.8 1156.6 303.3 1157.3 300.3 C1158.0 297.4 1158.8 284.4 1159.8 281.6 C1160.9 279.4 1163.6 282.6 1164.8 280.4 C1166.0 276.3 1167.5 259.9 1168.6 252.9 C1169.6 245.9 1171.4 234.6 1172.3 230.4 C1173.3 226.2 1174.3 224.0 1175.3 222.9 C1176.4 221.8 1178.8 221.4 1179.8 222.4 C1180.8 224.1 1181.6 231.6 1182.3 235.4 C1183.0 239.1 1184.1 246.5 1184.8 249.1 C1185.5 251.8 1185.9 253.4 1187.3 254.1 C1188.7 254.8 1193.1 254.1 1194.8 254.1 C1196.5 254.1 1198.4 254.6 1199.8 254.1 C1201.2 253.7 1203.6 250.7 1204.8 250.9 C1206.0 251.1 1207.5 253.9 1208.5 255.4 C1209.6 256.9 1211.2 260.2 1212.3 261.6 C1213.3 263.0 1215.0 265.5 1216.0 265.4 C1217.1 265.2 1218.6 261.4 1219.8 260.4 C1221.0 259.3 1223.4 258.7 1224.8 257.9 C1226.2 257.0 1228.6 254.8 1229.8 254.1 C1231.0 253.4 1232.5 252.4 1233.5 252.9 C1234.6 253.4 1236.3 256.6 1237.3 257.9 C1238.3 259.1 1239.7 260.4 1240.8 261.6 C1241.8 262.8 1243.3 265.7 1244.5 266.6 C1245.7 267.5 1248.1 267.2 1249.5 267.9 C1250.9 268.6 1253.3 270.4 1254.5 271.6 C1255.7 272.8 1257.2 275.0 1258.2 276.6 C1259.3 278.2 1260.9 282.5 1262.0 282.9 C1263.0 283.2 1264.7 279.1 1265.7 279.1 C1266.8 279.1 1268.4 281.8 1269.5 282.9 C1270.5 283.9 1271.5 286.1 1273.2 286.6 C1275.0 287.1 1280.2 286.4 1282.0 286.6 C1283.7 286.8 1284.7 286.7 1285.7 287.9 C1286.8 289.0 1287.9 293.8 1289.5 294.8 C1291.0 295.9 1295.6 294.1 1297.0 295.3 C1298.4 296.6 1298.8 301.3 1299.5 304.1 C1300.2 306.9 1300.9 313.8 1302.0 315.3 C1303.0 316.3 1305.7 316.3 1307.0 315.3 C1308.2 314.3 1309.7 309.7 1310.7 307.8 C1311.8 306.0 1313.4 302.2 1314.5 302.3 C1315.5 302.5 1317.2 307.1 1318.2 309.1 C1319.2 311.1 1321.1 316.8 1322.0 316.6 C1322.8 316.4 1323.8 311.6 1324.5 307.8 C1325.1 304.1 1325.9 290.9 1326.5 289.8 C1327.0 288.8 1327.6 297.3 1328.2 300.3 C1328.8 303.4 1329.8 309.5 1330.7 311.6 C1331.6 313.7 1333.6 313.8 1334.4 315.3 C1335.3 316.9 1336.2 320.0 1336.9 322.8 C1337.6 325.6 1338.7 332.4 1339.4 335.3 C1340.2 338.3 1341.6 344.4 1342.4 344.1 C1343.3 343.7 1344.7 335.1 1345.7 332.8 C1346.7 330.6 1348.6 328.0 1349.4 327.8 C1350.3 327.7 1351.1 329.5 1351.9 331.6 C1352.8 333.7 1354.6 340.0 1355.7 342.8 C1356.7 345.6 1358.2 350.2 1359.4 351.6 C1360.7 353.0 1363.0 352.7 1364.4 352.8 C1365.8 352.9 1367.7 353.2 1369.4 352.3 C1371.2 351.4 1375.3 347.4 1376.9 346.6 C1378.5 345.8 1379.6 345.6 1380.7 346.6 C1381.7 347.8 1383.2 353.9 1384.4 355.3 C1385.6 356.8 1388.2 357.1 1389.4 357.1 C1390.6 357.1 1392.1 357.0 1393.2 355.3 C1394.2 353.7 1396.0 347.1 1396.9 345.3 C1397.8 343.6 1398.5 342.6 1399.4 342.8 C1400.3 343.0 1402.1 345.5 1403.2 346.6 C1404.2 347.6 1405.9 350.1 1406.9 350.3 C1407.9 350.5 1409.6 347.8 1410.6 347.8 C1411.7 347.8 1413.3 349.8 1414.4 350.3 C1415.4 350.8 1416.9 351.6 1418.1 351.6 C1419.4 351.6 1421.9 351.4 1423.1 350.3 C1424.4 349.3 1426.0 344.8 1426.9 344.1 C1427.8 343.4 1428.7 344.3 1429.4 345.3 C1430.1 346.4 1430.8 350.5 1431.9 351.6 C1432.9 352.6 1435.7 353.3 1436.9 352.8 C1438.1 352.3 1439.4 349.0 1440.6 347.8 C1441.9 346.6 1444.4 344.4 1445.6 344.1 C1446.8 343.7 1448.1 344.8 1449.4 345.3 C1450.6 345.8 1453.0 347.1 1454.4 347.8 C1455.8 348.5 1458.0 349.9 1459.4 350.3 C1460.8 350.7 1463.1 351.7 1464.4 350.8 C1465.6 349.9 1467.1 345.9 1468.1 344.1 C1469.2 342.3 1470.6 338.5 1471.9 337.8 C1473.1 337.1 1475.1 338.9 1476.8 339.1 C1478.6 339.2 1482.6 339.1 1484.3 339.1 C1486.1 339.1 1488.0 338.2 1489.3 339.1 C1490.7 339.9 1492.9 343.4 1494.3 345.3 C1495.7 347.2 1497.9 351.4 1499.3 352.8 C1500.7 354.2 1502.6 354.9 1504.3 355.3 C1506.1 355.7 1509.0 355.6 1511.8 355.8 C1514.6 356.0 1520.8 356.4 1524.3 356.6 C1527.8 356.7 1533.3 357.0 1536.8 357.1 C1540.3 357.1 1547.0 357.2 1549.3 356.8 C1551.6 356.4 1552.0 354.4 1553.1 354.1 C1554.1 353.8 1555.8 354.4 1556.8 354.6 C1557.8 354.7 1559.6 355.2 1560.0 355.3" stroke="#a8ca28" stroke-width="1.75" fill="none" stroke-linejoin="round" stroke-linecap="round"/>
<path d="M79.5 357.3 C80.5 357.2 88.3 356.9 90.0 356.6 C91.7 356.3 96.3 354.5 97.5 354.1 C98.6 353.7 101.7 352.4 102.5 352.3 C103.3 352.2 105.4 353.2 106.2 352.8 C107.0 352.4 110.2 348.8 111.2 347.8 C112.3 346.9 116.3 343.6 117.5 342.8 C118.6 342.1 123.0 339.8 123.7 339.6 C124.5 339.3 125.1 339.3 125.5 340.3 C125.8 341.3 127.1 351.3 127.5 350.3 C127.8 347.5 129.0 317.8 129.5 310.3 C129.9 302.9 131.9 273.7 132.5 270.9 C133.0 269.9 134.5 276.2 134.9 280.4 C135.4 284.5 137.0 308.5 137.4 315.3 C137.9 322.2 139.0 350.5 139.9 354.1 C140.9 355.1 146.6 355.1 147.4 354.1 C148.3 350.5 149.1 326.0 149.4 315.3 C149.8 304.7 150.9 249.3 151.2 240.4 C151.5 231.5 152.2 219.9 152.4 219.9 C152.7 219.9 153.6 231.5 153.9 240.4 C154.3 249.3 155.8 305.1 156.2 315.3 C156.6 325.6 157.4 346.9 157.9 350.3 C158.5 352.6 161.8 352.0 162.4 351.6 C163.1 351.1 164.5 349.9 164.9 345.3 C165.4 340.8 167.0 308.1 167.4 302.8 C167.8 297.6 169.0 289.6 169.4 289.1 C169.8 288.6 171.4 294.7 171.9 297.8 C172.4 301.0 174.3 318.6 174.9 322.8 C175.6 327.0 178.1 340.6 178.7 342.8 C179.3 345.0 180.7 347.3 181.2 346.6 C181.7 345.9 183.8 336.4 184.2 335.3 C184.6 334.2 185.2 333.8 185.7 334.8 C186.1 336.7 187.7 353.3 188.7 355.3 C189.6 357.3 195.1 356.9 196.2 356.6 C197.2 356.2 199.1 352.7 199.9 351.6 C200.7 350.4 204.0 344.9 204.9 344.1 C205.8 343.3 208.9 342.7 209.9 342.8 C211.0 343.0 215.1 345.7 216.2 345.8 C217.2 345.9 220.3 343.2 221.2 344.1 C222.0 345.0 224.6 354.6 225.4 355.3 C226.2 356.0 229.0 352.4 229.9 351.6 C230.8 350.8 234.1 347.1 234.9 346.6 C235.7 346.0 237.9 346.6 238.6 345.8 C239.3 345.1 241.7 338.4 242.4 338.3 C243.1 338.3 245.4 344.6 246.1 345.3 C246.8 346.1 249.2 345.8 249.9 346.6 C250.6 347.4 252.7 353.4 253.6 354.1 C254.6 354.8 258.9 355.1 259.9 354.1 C260.8 353.0 263.0 344.4 263.6 342.8 C264.2 341.3 265.5 336.4 266.1 337.3 C266.7 338.3 269.2 351.3 269.9 352.8 C270.6 354.4 272.9 355.1 273.6 354.1 C274.3 352.8 276.8 340.5 277.4 339.1 C277.9 338.1 278.8 338.1 279.4 339.1 C280.0 340.4 282.6 351.3 283.6 352.8 C284.6 354.3 288.9 356.0 289.9 355.3 C290.9 354.6 293.7 345.7 294.4 345.3 C295.1 345.0 296.7 351.6 297.4 351.6 C298.0 351.6 300.5 345.9 301.1 345.3 C301.7 344.8 302.9 345.0 303.6 345.8 C304.3 346.6 307.6 353.1 308.6 354.1 C309.7 355.1 313.6 356.4 314.9 356.6 C316.1 356.7 320.8 355.3 322.3 355.3 C323.9 355.3 329.9 357.0 331.1 356.6 C332.3 356.1 334.9 350.8 335.6 350.8 C336.3 350.9 337.6 356.7 338.6 357.3 C339.6 357.9 344.9 357.8 346.1 357.3 C347.2 356.8 350.3 352.0 351.1 351.6 C351.9 351.1 354.1 351.8 354.8 352.3 C355.5 352.9 357.8 357.3 358.6 357.3 C359.4 357.3 362.8 352.8 363.6 352.8 C364.4 352.8 366.0 356.9 367.3 357.3 C368.6 357.7 376.0 358.0 377.3 357.3 C378.6 356.6 380.4 352.1 381.1 350.3 C381.7 348.5 383.5 338.1 384.1 337.8 C384.6 337.6 386.6 346.7 387.3 347.8 C388.0 349.0 391.0 349.4 391.8 350.3 C392.6 351.2 394.8 357.1 396.1 357.3 C397.3 357.5 403.5 352.5 404.8 352.3 C406.1 352.1 408.6 355.7 409.8 355.3 C411.0 354.9 416.0 347.7 417.3 347.8 C418.6 347.9 422.1 356.0 423.5 356.6 C424.9 357.1 431.0 354.0 432.3 354.1 C433.6 354.1 436.0 357.2 437.3 357.3 C438.6 357.4 444.9 355.3 446.0 355.3 C447.2 355.3 448.5 357.1 449.8 357.3 C451.0 357.5 458.5 357.6 459.8 357.3 C461.0 357.0 462.5 355.2 463.0 354.1 C463.5 353.0 464.7 346.2 465.0 345.3 C465.3 344.5 465.9 343.9 466.2 344.8 C466.6 345.8 467.9 354.5 468.7 355.3 C469.6 356.2 474.1 354.5 475.0 354.1 C475.9 353.6 477.9 351.0 478.7 350.3 C479.6 349.6 482.8 347.0 483.7 346.6 C484.7 346.1 488.0 345.3 488.7 345.3 C489.4 345.3 490.8 345.8 491.2 346.6 C491.7 347.4 492.8 353.4 493.7 354.1 C494.7 354.8 500.2 354.8 501.2 354.1 C502.2 353.4 504.0 347.6 504.5 346.6 C504.9 345.5 505.9 342.8 506.2 342.8 C506.5 342.8 507.6 345.3 508.0 346.6 C508.3 347.9 509.4 355.9 510.0 356.6 C510.5 357.3 513.0 355.1 513.7 354.1 C514.4 353.0 516.8 346.7 517.5 345.3 C518.2 344.0 520.4 340.2 521.2 339.6 C522.0 339.0 525.5 338.8 526.2 339.1 C526.9 339.4 528.2 341.8 528.7 342.8 C529.2 343.9 530.6 349.4 531.2 350.3 C531.8 351.3 533.9 352.6 535.0 352.8 C536.0 353.1 541.1 353.1 542.5 352.8 C543.9 352.6 549.0 351.3 550.0 350.3 C550.9 349.4 552.5 343.6 552.9 342.8 C553.4 342.0 554.5 341.1 554.9 341.6 C555.4 342.0 557.0 346.5 557.4 347.8 C557.9 349.1 559.1 354.5 559.9 355.3 C560.8 356.1 565.4 356.4 566.2 356.6 C567.0 356.7 568.1 357.9 568.7 357.3 C569.3 356.7 571.8 351.2 572.4 350.3 C573.0 349.4 574.5 347.4 574.9 347.8 C575.4 348.3 576.8 355.0 577.4 355.3 C578.0 355.7 580.6 352.2 581.2 351.6 C581.8 351.0 583.1 349.3 583.7 349.1 C584.3 348.8 586.8 350.1 587.4 349.1 C588.0 348.0 589.5 339.1 589.9 337.8 C590.3 336.5 591.3 334.9 591.7 335.3 C592.0 335.8 593.2 340.8 593.7 342.8 C594.1 344.8 595.6 355.9 596.2 356.6 C596.8 357.3 599.2 351.4 599.9 350.3 C600.6 349.3 603.0 345.3 603.7 345.3 C604.4 345.3 606.6 349.7 607.4 350.3 C608.2 350.9 611.6 351.4 612.4 351.6 C613.2 351.8 615.5 352.7 616.2 352.3 C616.8 352.0 618.6 347.5 619.1 347.8 C619.7 348.1 621.6 354.6 622.4 355.3 C623.2 356.0 626.5 355.6 627.4 355.3 C628.3 355.0 631.5 352.7 632.4 352.3 C633.3 351.9 636.2 351.0 637.4 351.1 C638.6 351.1 643.5 352.4 644.9 352.8 C646.3 353.3 651.0 355.4 652.4 355.8 C653.8 356.2 658.9 357.7 659.9 357.3 C660.9 356.9 662.5 352.2 662.9 351.6 C663.3 350.9 664.0 350.1 664.4 350.3 C664.8 350.6 666.6 353.6 667.4 354.1 C668.1 354.5 671.2 355.1 672.4 355.3 C673.5 355.6 678.2 356.4 679.9 356.6 C681.5 356.7 687.3 357.2 689.9 357.3 C692.4 357.4 705.3 357.4 707.4 357.3 C709.4 357.2 711.4 355.9 712.4 355.8 C713.3 355.7 716.6 357.1 717.3 356.6 C718.0 356.0 719.5 351.0 719.8 350.3 C720.2 349.6 721.0 348.6 721.3 349.1 C721.7 349.5 723.0 354.6 723.6 355.3 C724.1 356.1 725.8 357.1 727.3 357.3 C728.9 357.5 738.3 358.2 739.8 357.3 C741.3 356.4 743.0 349.1 743.6 347.8 C744.1 346.6 745.2 344.0 745.6 344.1 C745.9 344.2 746.9 347.9 747.3 349.1 C747.7 350.2 749.0 355.9 749.8 356.6 C750.6 357.3 755.1 356.8 756.1 356.6 C757.0 356.3 759.1 354.1 759.8 354.1 C760.5 354.1 761.2 356.3 763.6 356.6 C765.9 356.9 782.5 357.9 784.8 357.3 C787.1 356.7 787.3 351.8 787.8 350.3 C788.3 348.9 789.4 341.6 789.8 341.6 C790.2 341.6 791.3 348.9 791.8 350.3 C792.3 351.8 793.2 356.6 794.8 357.3 C796.4 358.0 806.9 358.2 808.5 357.3 C810.2 356.4 811.7 348.9 812.3 347.8 C812.9 346.7 814.2 345.0 814.8 345.3 C815.4 345.7 817.8 350.5 818.5 351.6 C819.2 352.6 821.1 356.1 822.3 356.6 C823.4 357.0 829.9 357.0 831.0 356.6 C832.2 356.1 834.1 352.6 834.8 351.6 C835.5 350.5 837.8 346.1 838.5 345.3 C839.2 344.5 841.7 342.8 842.3 342.8 C842.9 342.8 844.3 344.3 844.8 345.3 C845.2 346.4 846.7 353.0 847.3 354.1 C847.9 355.1 850.3 356.4 851.0 356.6 C851.7 356.7 854.2 356.0 854.8 355.3 C855.3 354.6 856.8 349.8 857.3 349.1 C857.7 348.4 859.5 347.4 859.8 347.8 C860.0 348.3 859.8 353.2 860.0 354.1 C860.4 355.0 862.8 357.0 863.8 357.3 C864.7 357.6 869.1 358.3 870.0 357.3 C870.9 356.2 873.2 346.7 873.7 345.3 C874.3 343.9 875.1 342.1 875.5 342.3 C875.8 342.6 877.1 346.4 877.5 347.8 C877.9 349.2 878.7 356.4 879.5 357.3 C880.3 358.2 885.3 358.3 886.2 357.3 C887.2 356.2 889.0 347.0 889.5 345.3 C890.0 343.6 891.1 339.1 891.5 339.1 C891.9 339.1 893.3 344.0 893.7 345.3 C894.2 346.6 895.8 352.6 896.2 352.8 C896.7 353.1 898.0 348.3 898.7 347.8 C899.4 347.4 903.0 347.2 903.7 347.8 C904.4 348.4 905.8 353.2 906.2 354.1 C906.7 355.0 908.0 357.2 908.7 357.3 C909.4 357.4 912.8 355.8 913.7 355.3 C914.7 354.9 917.9 352.7 918.7 352.3 C919.5 352.0 921.6 351.4 922.5 351.6 C923.3 351.7 926.3 353.8 927.5 354.1 C928.6 354.3 933.8 353.8 935.0 354.1 C936.1 354.4 939.0 357.1 940.0 357.3 C940.9 357.5 944.2 357.1 945.0 356.6 C945.7 356.0 947.0 352.0 947.5 351.6 C947.9 351.2 949.4 351.8 950.0 352.3 C950.5 352.9 953.0 357.1 953.7 357.3 C954.4 357.5 956.7 354.6 957.4 354.1 C958.1 353.5 960.6 351.3 961.2 351.6 C961.8 351.9 963.1 357.2 963.7 357.3 C964.3 357.4 966.7 353.9 967.4 352.8 C968.1 351.7 970.6 346.3 971.2 345.3 C971.8 344.4 973.2 342.4 973.7 342.8 C974.1 343.3 975.7 349.5 976.2 350.3 C976.6 351.1 978.2 352.0 978.7 351.6 C979.1 351.1 980.7 345.7 981.2 345.3 C981.6 345.0 983.1 347.0 983.7 347.8 C984.3 348.6 986.6 353.3 987.4 354.1 C988.2 354.9 991.3 356.3 992.4 356.6 C993.6 356.9 998.8 357.6 999.9 357.3 C1001.1 357.0 1004.0 354.0 1004.9 352.8 C1005.8 351.7 1009.2 345.8 1009.9 344.8 C1010.7 343.9 1012.3 342.7 1012.9 342.8 C1013.5 343.0 1015.5 345.5 1016.2 346.6 C1016.8 347.6 1019.0 353.1 1019.9 354.1 C1020.8 355.0 1025.2 356.6 1026.2 356.6 C1027.1 356.6 1029.3 354.9 1029.9 354.1 C1030.5 353.3 1031.9 348.6 1032.4 347.8 C1032.9 347.0 1034.5 345.1 1034.9 345.3 C1035.2 345.6 1035.8 350.6 1036.1 350.3 C1036.5 350.1 1038.2 344.9 1038.6 342.8 C1039.1 340.7 1040.7 329.3 1041.1 327.8 C1041.5 326.3 1042.5 325.6 1042.9 326.6 C1043.3 327.5 1044.9 335.5 1045.4 337.8 C1045.9 340.2 1047.9 349.9 1048.6 351.6 C1049.4 353.2 1052.9 355.1 1053.6 355.3 C1054.3 355.6 1055.5 355.0 1056.1 354.1 C1056.7 353.1 1059.3 346.4 1059.9 345.3 C1060.5 344.3 1061.9 342.5 1062.4 342.8 C1062.8 343.2 1064.3 348.3 1064.9 349.1 C1065.5 349.9 1067.9 351.3 1068.6 351.6 C1069.3 351.9 1071.6 351.9 1072.4 352.3 C1073.2 352.8 1076.0 356.1 1077.4 356.6 C1078.8 357.0 1086.2 358.2 1087.4 357.3 C1088.5 356.4 1089.4 347.5 1089.9 346.6 C1090.3 345.7 1091.8 347.4 1092.4 347.8 C1092.9 348.3 1095.5 351.1 1096.1 351.6 C1096.7 352.0 1098.1 353.1 1098.6 352.8 C1099.1 352.6 1100.5 348.7 1101.1 349.1 C1101.7 349.4 1104.0 355.8 1104.8 356.6 C1105.7 357.3 1109.1 358.3 1109.8 357.3 C1110.6 356.3 1112.3 346.9 1112.8 345.3 C1113.4 343.7 1114.9 340.1 1115.3 340.3 C1115.8 340.6 1116.9 346.5 1117.3 347.8 C1117.8 349.1 1119.4 353.8 1119.8 354.1 C1120.3 354.3 1121.9 350.9 1122.3 350.3 C1122.8 349.8 1123.9 348.1 1124.3 348.3 C1124.8 348.6 1126.6 352.3 1127.3 352.8 C1128.1 353.4 1131.4 353.8 1132.3 354.1 C1133.3 354.3 1136.3 355.1 1137.3 355.3 C1138.4 355.6 1142.6 356.9 1143.6 356.6 C1144.5 356.2 1146.6 351.8 1147.3 351.6 C1148.0 351.3 1150.5 354.0 1151.1 354.1 C1151.7 354.1 1153.1 352.7 1153.6 352.3 C1154.0 352.0 1155.6 350.0 1156.1 350.3 C1156.5 350.6 1158.0 354.7 1158.6 355.3 C1159.2 356.0 1161.0 357.1 1162.3 357.3 C1163.6 357.5 1171.0 357.8 1172.3 357.3 C1173.6 356.8 1175.2 352.2 1176.1 351.6 C1176.9 350.9 1180.2 351.1 1181.1 350.3 C1181.9 349.5 1184.2 343.8 1184.8 342.8 C1185.4 341.8 1187.2 339.3 1187.8 339.6 C1188.4 339.8 1190.5 343.7 1191.0 345.3 C1191.6 347.0 1192.9 356.3 1193.5 357.3 C1194.2 358.3 1197.7 357.3 1198.5 356.6 C1199.4 355.8 1201.7 350.0 1202.3 349.1 C1202.9 348.1 1204.7 346.3 1205.3 346.6 C1205.9 346.8 1207.9 350.6 1208.5 351.6 C1209.2 352.6 1211.6 357.5 1212.3 357.3 C1213.0 357.1 1215.5 349.8 1216.0 349.1 C1216.5 348.3 1217.3 348.4 1217.8 349.1 C1218.2 349.8 1220.1 355.9 1221.0 356.6 C1221.9 357.3 1226.2 357.1 1227.3 356.6 C1228.3 356.0 1231.4 351.1 1232.3 350.3 C1233.2 349.5 1236.2 347.7 1237.0 347.8 C1237.8 347.9 1239.9 350.7 1240.8 351.6 C1241.6 352.5 1244.8 356.8 1245.7 357.3 C1246.7 357.8 1249.9 357.0 1250.7 356.6 C1251.6 356.1 1253.9 353.4 1254.5 352.8 C1255.1 352.2 1256.4 350.1 1257.0 350.3 C1257.6 350.6 1259.9 355.2 1260.7 355.3 C1261.6 355.4 1265.0 352.2 1265.7 351.6 C1266.5 351.0 1268.1 348.7 1268.7 349.1 C1269.3 349.4 1271.3 354.6 1272.0 355.3 C1272.6 356.1 1274.0 357.1 1275.7 357.3 C1277.5 357.5 1289.0 357.8 1290.7 357.3 C1292.5 356.8 1293.7 352.8 1294.5 352.3 C1295.3 351.9 1298.8 352.5 1299.5 352.3 C1300.2 352.2 1301.5 350.4 1302.0 350.8 C1302.4 351.3 1303.4 356.7 1304.5 357.3 C1305.5 357.9 1312.0 358.1 1313.2 357.3 C1314.4 356.5 1316.2 349.7 1317.0 349.1 C1317.7 348.4 1320.0 349.9 1320.7 350.3 C1321.4 350.8 1323.8 354.1 1324.5 354.1 C1325.1 354.1 1327.6 351.0 1328.2 350.3 C1328.8 349.6 1330.2 346.2 1330.7 346.6 C1331.2 346.9 1332.6 353.4 1333.2 354.1 C1333.8 354.8 1336.2 354.3 1336.9 354.1 C1337.6 353.8 1340.1 351.7 1340.7 351.6 C1341.3 351.5 1342.6 352.3 1343.2 352.8 C1343.8 353.4 1346.2 357.0 1346.9 357.3 C1347.6 357.6 1350.0 356.8 1350.7 356.6 C1351.4 356.3 1353.6 354.8 1354.4 354.8 C1355.2 354.8 1358.3 356.4 1359.4 356.6 C1360.6 356.7 1365.8 356.5 1366.9 356.6 C1368.1 356.6 1370.8 357.4 1371.9 357.3 C1373.1 357.2 1378.5 355.9 1379.4 355.3 C1380.3 354.8 1381.4 351.9 1381.9 351.6 C1382.4 351.2 1383.9 351.0 1384.4 351.6 C1384.9 352.1 1385.5 356.8 1386.9 357.3 C1388.3 357.8 1397.1 357.3 1399.4 357.3 C1401.7 357.3 1409.3 357.3 1411.9 357.3 C1414.5 357.3 1425.2 357.8 1426.9 357.3 C1428.6 356.8 1429.4 352.2 1429.9 351.6 C1430.3 350.9 1431.5 349.8 1431.9 350.3 C1432.3 350.9 1433.6 356.6 1434.4 357.3 C1435.2 358.0 1439.4 358.3 1440.1 357.3 C1440.8 353.4 1441.6 321.7 1441.9 315.3 C1442.2 309.0 1443.2 292.0 1443.4 289.4 C1443.6 286.7 1443.8 286.6 1443.9 286.6 C1444.0 286.6 1444.2 285.6 1444.4 289.4 C1444.6 293.2 1445.6 321.5 1445.9 327.8 C1446.1 334.2 1446.8 354.5 1447.4 357.3 C1447.9 358.3 1451.1 357.5 1451.9 357.3 C1452.6 357.1 1454.9 355.3 1455.6 355.3 C1456.3 355.3 1457.6 357.1 1459.4 357.3 C1461.1 357.5 1471.6 357.4 1474.4 357.3 C1477.2 357.2 1487.6 356.8 1489.3 356.6 C1491.1 356.3 1492.4 354.5 1493.1 354.3 C1493.8 354.1 1496.1 354.0 1496.8 354.3 C1497.5 354.6 1499.0 357.0 1500.6 357.3 C1502.2 357.6 1512.6 357.4 1514.3 357.3 C1516.1 357.2 1518.4 356.6 1519.3 356.6 C1520.3 356.6 1520.5 357.2 1524.3 357.3 C1528.1 357.4 1556.7 357.3 1560.0 357.3" stroke="#be1b50" stroke-width="1.75" fill="none" stroke-linejoin="round" stroke-linecap="round"/>
</g>
<text x="817.5" y="35.2" text-anchor="middle" font-size="25.9" fill="#17858a">Price/availability history</text>
<text x="817.5" y="56.7" text-anchor="middle" font-size="14.6" fill="#7a7a7a">Click shopping chart and drag to enlarge</text>
<text x="817.5" y="431.6" text-anchor="middle" font-size="25.9" fill="#17858a">Product click history</text>
<text x="817.5" y="453" text-anchor="middle" font-size="14.6" fill="#7a7a7a">Click shopping chart and drag to enlarge</text>
<text x="64" y="79.7" text-anchor="end" font-size="14" fill="#666666">700 €</text>
<text x="64" y="150" text-anchor="end" font-size="14" fill="#666666">600 €</text>
<text x="64" y="220.8" text-anchor="end" font-size="14" fill="#666666">500 €</text>
<text x="64" y="291.6" text-anchor="end" font-size="14" fill="#666666">400 €</text>
<text x="64" y="361.8" text-anchor="end" font-size="14" fill="#666666">300 €</text>
<text x="1575" y="79.7" font-size="14" fill="#666666">2000</text>
<text x="1575" y="150" font-size="14" fill="#666666">1500</text>
<text x="1575" y="220.8" font-size="14" fill="#666666">1000</text>
<text x="1575" y="291.6" font-size="14" fill="#666666">500</text>
<text x="1575" y="361.8" font-size="14" fill="#666666">0</text>
<text x="58.5" y="380" textLength="40.5" lengthAdjust="spacingAndGlyphs" font-size="13.8" fill="#666666">Jan '21</text>
<text x="182.9" y="380" textLength="43.5" lengthAdjust="spacingAndGlyphs" font-size="13.8" fill="#666666">Feb '21</text>
<text x="295.1" y="380" textLength="46.5" lengthAdjust="spacingAndGlyphs" font-size="13.8" fill="#666666">Mar '21</text>
<text x="422.8" y="380" textLength="43" lengthAdjust="spacingAndGlyphs" font-size="13.8" fill="#666666">Apr '21</text>
<text x="542.9" y="380" textLength="46.5" lengthAdjust="spacingAndGlyphs" font-size="13.8" fill="#666666">May '21</text>
<text x="671.3" y="380" textLength="41.5" lengthAdjust="spacingAndGlyphs" font-size="13.8" fill="#666666">Jun '21</text>
<text x="795.6" y="380" textLength="36.5" lengthAdjust="spacingAndGlyphs" font-size="13.8" fill="#666666">Jul '21</text>
<text x="917.2" y="380" textLength="45" lengthAdjust="spacingAndGlyphs" font-size="13.8" fill="#666666">Aug '21</text>
<text x="1043.4" y="380" textLength="44.5" lengthAdjust="spacingAndGlyphs" font-size="13.8" fill="#666666">Sep '21</text>
<text x="1166.2" y="380" textLength="42.5" lengthAdjust="spacingAndGlyphs" font-size="13.8" fill="#666666">Oct '21</text>
<text x="1290.3" y="380" textLength="46" lengthAdjust="spacingAndGlyphs" font-size="13.8" fill="#666666">Nov '21</text>
<text x="1412.9" y="380" textLength="44.5" lengthAdjust="spacingAndGlyphs" font-size="13.8" fill="#666666">Dec '21</text>
<text transform="translate(18.4,217.5) rotate(-90)" text-anchor="middle" font-size="14.2" fill="#444">WSP trend</text>
<text transform="translate(1615.6,217.3) rotate(90)" text-anchor="middle" font-size="14" fill="#aac932">Stock/sell-off</text>
<rect x="1645.5" y="160.5" width="10" height="55" fill="#fdfdfd" stroke="#f6f6f6"/>
<rect x="121.5" y="92.5" width="136" height="67" rx="4" fill="#ffffff" stroke="#e3e3e3" stroke-width="1"/>
<path d="M129 108.2 H145" stroke="#46464b" stroke-width="2"/>
<text x="150.3" y="111.5" font-size="14" textLength="66.5" lengthAdjust="spacingAndGlyphs" fill="#666">WSP trend</text>
<path d="M129 127.2 H145" stroke="#a8ca28" stroke-width="2"/>
<text x="150.3" y="130.5" font-size="14" textLength="100" lengthAdjust="spacingAndGlyphs" fill="#666">Stock level total</text>
<path d="M129 146.2 H145" stroke="#be1b50" stroke-width="2"/>
<text x="150.3" y="149.5" font-size="14" textLength="71" lengthAdjust="spacingAndGlyphs" fill="#666">Sales trend</text>
<rect x="1464.5" y="86.5" width="86" height="28.5" rx="2.5" fill="#f7f7f7" stroke="#cfcfcf" stroke-width="1"/>
<text x="1507.5" y="104" text-anchor="middle" font-size="14" fill="#222">Reset zoom</text>
<path d="M59 471.4 H1632" stroke="#e4e4e4" stroke-width="1.2" fill="none"/>
<path d="M59 514.3 H1632" stroke="#e4e4e4" stroke-width="1.2" fill="none"/>
<path d="M59 556.3 H1632" stroke="#e4e4e4" stroke-width="1.2" fill="none"/>
<text x="43" y="475.2" text-anchor="end" font-size="14" fill="#666666">4k</text>
<text x="43" y="517.4" text-anchor="end" font-size="14" fill="#666666">2k</text>
<text x="43" y="559.4" text-anchor="end" font-size="14" fill="#666666">0</text>
<text transform="translate(18.6,514) rotate(-90)" text-anchor="middle" font-size="14" fill="#444">Product clicks</text>
<text x="143.8" y="576.7" textLength="43.5" lengthAdjust="spacingAndGlyphs" font-size="13.8" fill="#666666">Feb '21</text>
<text x="265.8" y="576.7" textLength="46.5" lengthAdjust="spacingAndGlyphs" font-size="13.8" fill="#666666">Mar '21</text>
<text x="404.3" y="576.7" textLength="43" lengthAdjust="spacingAndGlyphs" font-size="13.8" fill="#666666">Apr '21</text>
<text x="534.9" y="576.7" textLength="46.5" lengthAdjust="spacingAndGlyphs" font-size="13.8" fill="#666666">May '21</text>
<text x="674.1" y="576.7" textLength="41.5" lengthAdjust="spacingAndGlyphs" font-size="13.8" fill="#666666">Jun '21</text>
<text x="808.9" y="576.7" textLength="36.5" lengthAdjust="spacingAndGlyphs" font-size="13.8" fill="#666666">Jul '21</text>
<text x="941.4" y="576.7" textLength="45" lengthAdjust="spacingAndGlyphs" font-size="13.8" fill="#666666">Aug '21</text>
<text x="1078.4" y="576.7" textLength="44.5" lengthAdjust="spacingAndGlyphs" font-size="13.8" fill="#666666">Sep '21</text>
<text x="1211.8" y="576.7" textLength="42.5" lengthAdjust="spacingAndGlyphs" font-size="13.8" fill="#666666">Oct '21</text>
<text x="1346.7" y="576.7" textLength="46" lengthAdjust="spacingAndGlyphs" font-size="13.8" fill="#666666">Nov '21</text>
<text x="1479.8" y="576.7" textLength="44.5" lengthAdjust="spacingAndGlyphs" font-size="13.8" fill="#666666">Dec '21</text>
<path d="M74.4 551.6 L105.2 550.6 L136.1 548.1 L166.9 548.1 L197.8 548.6 L228.6 546.1 L259.4 547.6 L290.3 547.6 L321.1 548.1 L352.0 548.1 L382.8 546.6 L413.6 550.1 L444.5 549.6 L475.3 547.1 L506.2 547.1 L537.0 548.1 L567.8 547.6 L598.7 548.6 L629.5 546.6 L660.4 548.1 L691.2 548.1 L722.0 546.1 L752.9 548.1 L783.7 549.1 L814.6 548.1 L845.4 546.1 L876.2 548.1 L907.1 549.1 L937.9 548.6 L968.8 547.1 L999.6 548.1 L1030.4 547.1 L1061.3 548.1 L1092.1 547.1 L1123.0 546.6 L1153.8 538.1 L1184.6 537.1 L1215.5 538.1 L1246.3 535.1 L1277.2 535.1 L1308.0 526.6 L1338.8 523.1 L1369.7 519.6 L1400.5 508.1 L1431.4 512.1 L1462.2 511.6 L1493.0 507.6 L1523.9 518.6 L1554.7 516.6 L1585.6 533.6 L1616.4 544.1" stroke="#4a4a4f" stroke-width="1.7" fill="none" stroke-linejoin="round" stroke-linecap="round"/>
</svg>
</body></html>
